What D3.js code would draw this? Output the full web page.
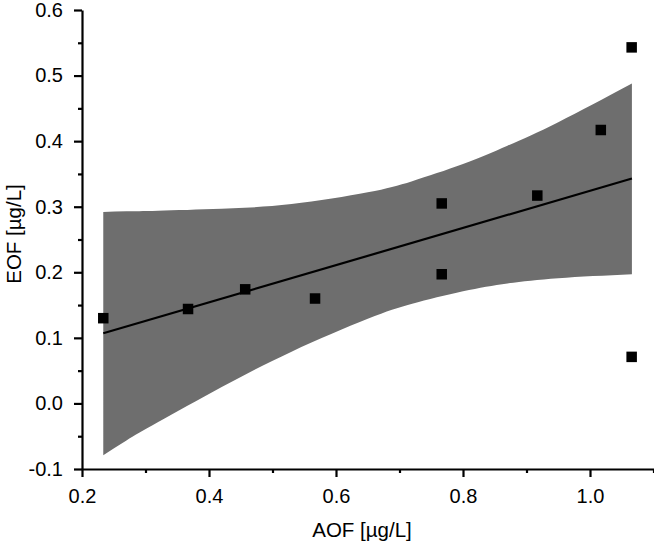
<!DOCTYPE html>
<html>
<head>
<meta charset="utf-8">
<script src="https://cdn.jsdelivr.net/npm/d3@7/dist/d3.min.js"></script>
<style>
  html, body { margin: 0; padding: 0; background: #fff; }
  svg { display: block; }
  text { font-family: "Liberation Sans", Arial, sans-serif; fill: #000; }
</style>
</head>
<body>
<svg id="chart" width="654" height="545"></svg>
<script>
// ---- data ----
const aof = [0.2335, 0.367, 0.457, 0.567, 0.7665, 0.7665, 0.917, 1.017, 1.0656, 1.0656];
const eof = [0.130, 0.144, 0.174, 0.160, 0.305, 0.197, 0.317, 0.417, 0.543, 0.071];

const fitX = [0.2335, 1.066];
const fitY = [0.107, 0.343];

const bandX     = [0.2335, 0.27, 0.32, 0.42, 0.53, 0.65, 0.72, 0.80, 0.87, 0.95, 1.066];
const bandUpper = [0.292, 0.293, 0.294, 0.297, 0.304, 0.322, 0.339, 0.365, 0.393, 0.429, 0.488];
const bandLower = [-0.079, -0.0565, -0.0285, 0.025, 0.079, 0.129, 0.152, 0.171, 0.183, 0.191, 0.197];

const xMajor = [0.2, 0.4, 0.6, 0.8, 1.0];
const xMinor = [0.3, 0.5, 0.7, 0.9, 1.1];
const yMajor = [-0.1, 0.0, 0.1, 0.2, 0.3, 0.4, 0.5, 0.6];
const yMinor = [-0.05, 0.05, 0.15, 0.25, 0.35, 0.45, 0.55];

const xTitle = "AOF [µg/L]";
const yTitle = "EOF [µg/L]";

// ---- layout ----
const svg = d3.select("#chart");
const x = d3.scaleLinear().domain([0.2, 1.1]).range([82, 653.5]);
const y = d3.scaleLinear().domain([-0.1, 0.6]).range([469, 10]);

// band
const band = bandX.map((v, i) => ({x: v, lo: bandLower[i], hi: bandUpper[i]}));
svg.append("path")
  .datum(band)
  .attr("fill", "#6e6e6e")
  .attr("d", d3.area()
    .x(d => x(d.x))
    .y0(d => y(d.lo))
    .y1(d => y(d.hi))
    .curve(d3.curveNatural));

// fit line
svg.append("path")
  .datum(fitX.map((v, i) => [v, fitY[i]]))
  .attr("fill", "none")
  .attr("stroke", "#000")
  .attr("stroke-width", 2.2)
  .attr("d", d3.line().x(d => x(d[0])).y(d => y(d[1])));

// points
const ms = 10.5;
svg.append("g").selectAll("rect")
  .data(aof.map((v, i) => [v, eof[i]]))
  .join("rect")
  .attr("x", d => x(d[0]) - ms / 2)
  .attr("y", d => y(d[1]) - ms / 2)
  .attr("width", ms)
  .attr("height", ms)
  .attr("fill", "#000");

// axes
const fmt = d => d.toFixed(1);
const gx = svg.append("g").attr("transform", `translate(0,${y(-0.1)})`);
gx.call(d3.axisBottom(x).tickValues(xMajor).tickSize(8).tickSizeOuter(0).tickPadding(12).tickFormat(fmt));
gx.append("g").call(d3.axisBottom(x).tickValues(xMinor).tickSize(4).tickSizeOuter(0).tickFormat(""))
  .select(".domain").remove();

const gy = svg.append("g").attr("transform", `translate(${x(0.2)},0)`);
gy.call(d3.axisLeft(y).tickValues(yMajor).tickSize(8).tickSizeOuter(0).tickPadding(11).tickFormat(fmt));
gy.append("g").call(d3.axisLeft(y).tickValues(yMinor).tickSize(4).tickSizeOuter(0).tickFormat(""))
  .select(".domain").remove();

svg.selectAll(".domain").attr("stroke", "#000").attr("stroke-width", 2.2);
svg.selectAll(".tick line").attr("stroke", "#000").attr("stroke-width", 2.2);
svg.selectAll(".tick text")
  .attr("font-family", "'Liberation Sans', Arial, sans-serif")
  .attr("font-size", 20)
  .attr("fill", "#000");

// titles
svg.append("text")
  .attr("x", 362).attr("y", 537)
  .attr("text-anchor", "middle")
  .attr("font-size", 20.5)
  .text(xTitle);

svg.append("text")
  .attr("transform", "translate(21,234) rotate(-90)")
  .attr("text-anchor", "middle")
  .attr("font-size", 20.5)
  .text(yTitle);
</script>
</body>
</html>
